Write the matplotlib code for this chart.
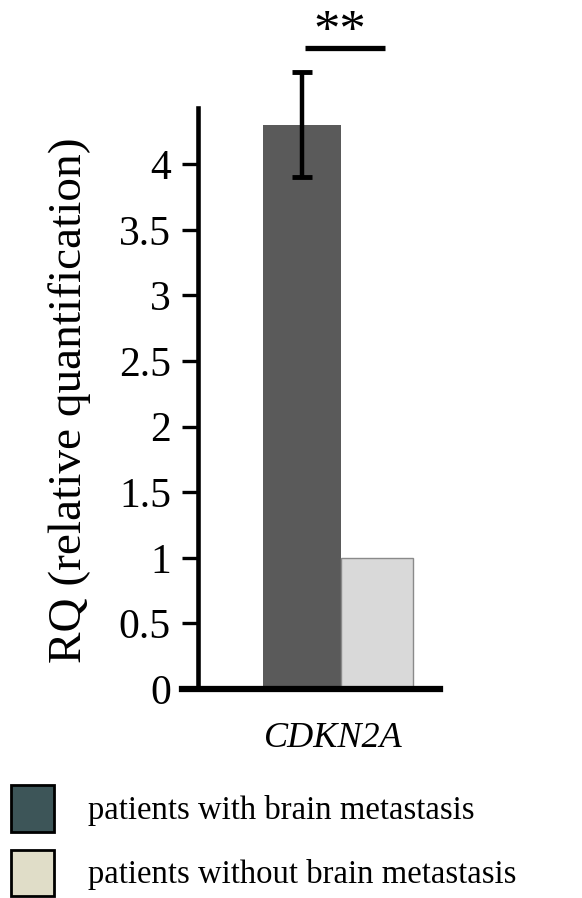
import matplotlib
matplotlib.use('Agg')
import matplotlib.pyplot as plt
from matplotlib.patches import Patch

plt.rcParams['font.family'] = ['Liberation Serif', 'DejaVu Serif']

# data
gene = 'CDKN2A'
groups = ['patients with brain metastasis', 'patients without brain metastasis']
rq = [4.3, 1.0]
rq_err = [0.4, None]
significance = '**'

bar_colors = ['#5a5a5a', '#d9d9d9']
legend_colors = ['#3d5558', '#e0ddc8']

fig = plt.figure(figsize=(5.82, 8.98), dpi=100)
ax = fig.add_axes([198 / 582, 1 - 689 / 898, 242 / 582, (689 - 20) / 898])

pos = [0, 1]
ax.bar(pos[0], rq[0], width=1.04, color=bar_colors[0], edgecolor='none', zorder=2)
ax.bar(pos[1], rq[1], width=0.96, color=bar_colors[1], edgecolor='#8a8a8a',
       linewidth=1.0, zorder=2)
ax.errorbar(pos[0], rq[0], yerr=rq_err[0], fmt='none', ecolor='black',
            elinewidth=3.2, capsize=7, capthick=3.5, zorder=3)

ax.set_xlim(-1.387, 1.84)
ax.set_ylim(0, 5.1)
ax.set_yticks([0, 0.5, 1, 1.5, 2, 2.5, 3, 3.5, 4])
ax.set_yticklabels(['0', '0.5', '1', '1.5', '2', '2.5', '3', '3.5', '4'])
ax.set_xticks([])

for s in ['top', 'right']:
    ax.spines[s].set_visible(False)
ax.spines['left'].set_linewidth(3.3)
ax.spines['left'].set_bounds(0, 4.43)
ax.spines['bottom'].set_linewidth(4.5)
ax.spines['bottom'].set_bounds(-1.6, 1.84)
ax.tick_params(axis='y', direction='out', length=11.5, width=2.4, pad=8,
               labelsize=30)

ax.set_ylabel('RQ (relative quantification)', fontsize=34)
ax.yaxis.set_label_coords(-0.442, 0.432)
ax.text(0.42, -0.375, gene, fontsize=26, style='italic', ha='center',
        va='center', clip_on=False)

# significance bar
ax.plot([0.04, 1.1], [4.89, 4.89], color='black', linewidth=3.8,
        solid_capstyle='butt', clip_on=False)
ax.text(0.5, 5.0, significance, fontsize=38, ha='center', va='center',
        clip_on=False)

handles = [Patch(facecolor=c, edgecolor='black', linewidth=2) for c in legend_colors]
fig.legend(handles, groups, loc='upper left', bbox_to_anchor=(0.019, 1 - 785 / 898),
           frameon=False, fontsize=23.6, handlelength=1.3, handleheight=1.82,
           handletextpad=1.05, labelspacing=0.54, borderaxespad=0, borderpad=0.0)

fig.savefig('out.png', dpi=100)
